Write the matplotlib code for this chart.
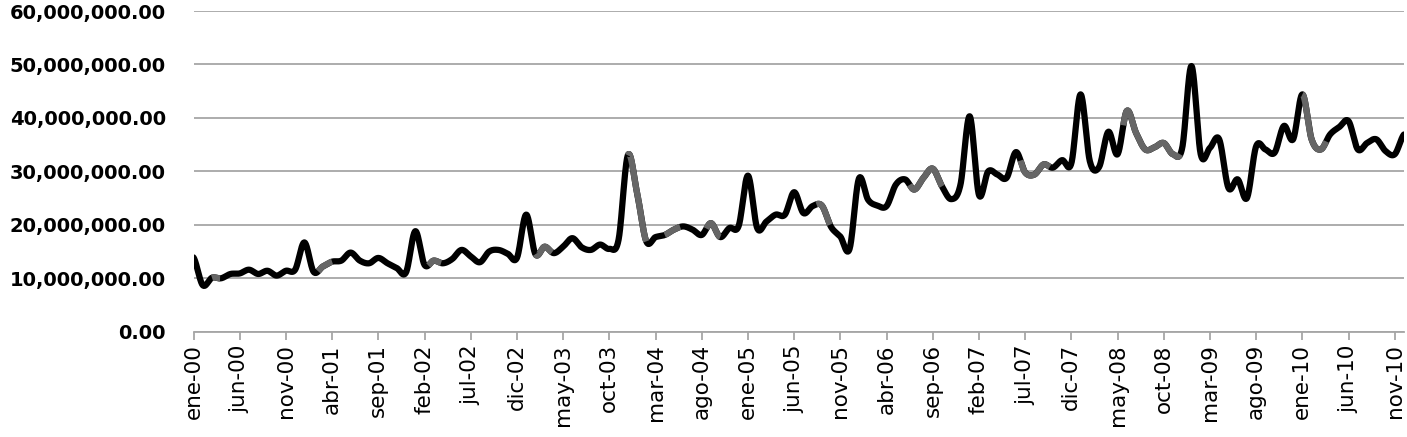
import numpy as np
import matplotlib
matplotlib.use('Agg')
import matplotlib.pyplot as plt
from matplotlib.ticker import FuncFormatter

# valores mensuales (millones), ene-00 a dic-10
v_2000 = [13.9, 8.7, 10.1, 10.0, 10.8, 10.9, 11.6, 10.8, 11.4, 10.5, 11.4, 11.6]
v_2001 = [16.7, 11.2, 12.2, 13.1, 13.3, 14.8, 13.3, 12.8, 13.8, 12.8, 11.9, 11.1]
v_2002 = [18.8, 12.5, 13.3, 12.8, 13.6, 15.3, 14.1, 13.0, 15.0, 15.3, 14.6, 13.8]
v_2003 = [21.9, 14.5, 15.9, 14.7, 15.9, 17.5, 15.8, 15.3, 16.3, 15.5, 17.2, 33.0]
v_2004 = [26.0, 16.9, 17.7, 18.1, 19.1, 19.7, 19.1, 18.1, 20.3, 17.7, 19.4, 19.8]
v_2005 = [29.2, 19.4, 20.6, 21.9, 21.9, 26.1, 22.2, 23.5, 23.6, 19.6, 17.8, 15.5]
v_2006 = [28.6, 24.7, 23.6, 23.5, 27.5, 28.5, 26.6, 28.8, 30.5, 27.2, 24.8, 27.5]
v_2007 = [40.3, 25.6, 30.0, 29.4, 28.8, 33.6, 29.8, 29.4, 31.3, 30.7, 32.1, 31.5]
v_2008 = [44.4, 31.9, 30.8, 37.4, 33.2, 41.3, 37.2, 34.1, 34.5, 35.3, 33.2, 34.4]
v_2009 = [49.7, 33.2, 34.4, 36.0, 26.9, 28.5, 25.0, 34.7, 34.1, 33.5, 38.5, 36.0]
v_2010 = [44.4, 36.0, 34.1, 36.9, 38.3, 39.4, 34.1, 35.3, 36.0, 33.8, 33.2, 36.9]

meses = ['ene', 'feb', 'mar', 'abr', 'may', 'jun', 'jul', 'ago', 'sep', 'oct', 'nov', 'dic']
anios = ['00', '01', '02', '03', '04', '05', '06', '07', '08', '09', '10']

valores = np.array(v_2000 + v_2001 + v_2002 + v_2003 + v_2004 + v_2005 +
                   v_2006 + v_2007 + v_2008 + v_2009 + v_2010) * 1e6
etiquetas = [m + '-' + a for a in anios for m in meses]
n = len(valores)

# tramos que en la imagen salen en gris (en meses)
tramos_gris = [(2.0, 2.9), (13.5, 15.0), (25.4, 26.8), (37.0, 38.8), (47.0, 49.0),
               (51.0, 52.7), (55.5, 57.0), (67.4, 68.9), (77.5, 81.0), (89.5, 92.7),
               (100.6, 106.8), (120.0, 122.6)]


def suavizar(y, pasos=24):
    # curva tipo excel (catmull-rom)
    p = np.concatenate([[y[0]], y, [y[-1]]])
    xs, ys = [], []
    for i in range(len(y) - 1):
        p0, p1, p2, p3 = p[i], p[i + 1], p[i + 2], p[i + 3]
        t = np.linspace(0, 1, pasos, endpoint=False)
        yy = 0.5 * ((2 * p1) + (-p0 + p2) * t + (2 * p0 - 5 * p1 + 4 * p2 - p3) * t ** 2
                    + (-p0 + 3 * p1 - 3 * p2 + p3) * t ** 3)
        xs.append(i + t)
        ys.append(yy)
    xs.append([len(y) - 1])
    ys.append([y[-1]])
    return np.concatenate(xs), np.concatenate(ys)


fig = plt.figure(figsize=(14.07, 4.37), dpi=100)
ax = fig.add_axes([193.5 / 1407, (437 - 331.7) / 437, (1404 - 193.5) / 1407, 320.7 / 437])

xs, ys = suavizar(valores)
ax.plot(xs, ys, color='black', lw=4.5, solid_capstyle='round', zorder=3)
for a, b in tramos_gris:
    m = (xs >= a) & (xs <= b)
    ax.plot(xs[m], ys[m], color='#666666', lw=4.5, solid_capstyle='butt', zorder=4)

ax.set_xlim(0, n - 1)
ax.set_ylim(0, 60e6)
ax.set_yticks(np.arange(0, 60e6 + 1, 10e6))
ax.yaxis.set_major_formatter(FuncFormatter(lambda v, p: f'{v:,.2f}'))
ax.grid(axis='y', color='#a6a6a6', lw=1.3)
ax.set_axisbelow(True)

pos = list(range(0, n, 5))
ax.set_xticks(pos)
ax.set_xticklabels([etiquetas[i] for i in pos], rotation=90, fontsize=15.5)

for s in ['top', 'right', 'left']:
    ax.spines[s].set_visible(False)
ax.spines['bottom'].set_color('#a6a6a6')
ax.spines['bottom'].set_linewidth(1.3)
ax.tick_params(axis='x', length=6, color='#a6a6a6', width=1.3, pad=3)
ax.tick_params(axis='y', length=0, pad=20)
for t in ax.get_yticklabels():
    t.set_fontweight('bold')
    t.set_fontsize(14.0)

fig.savefig('out.png', dpi=100)
